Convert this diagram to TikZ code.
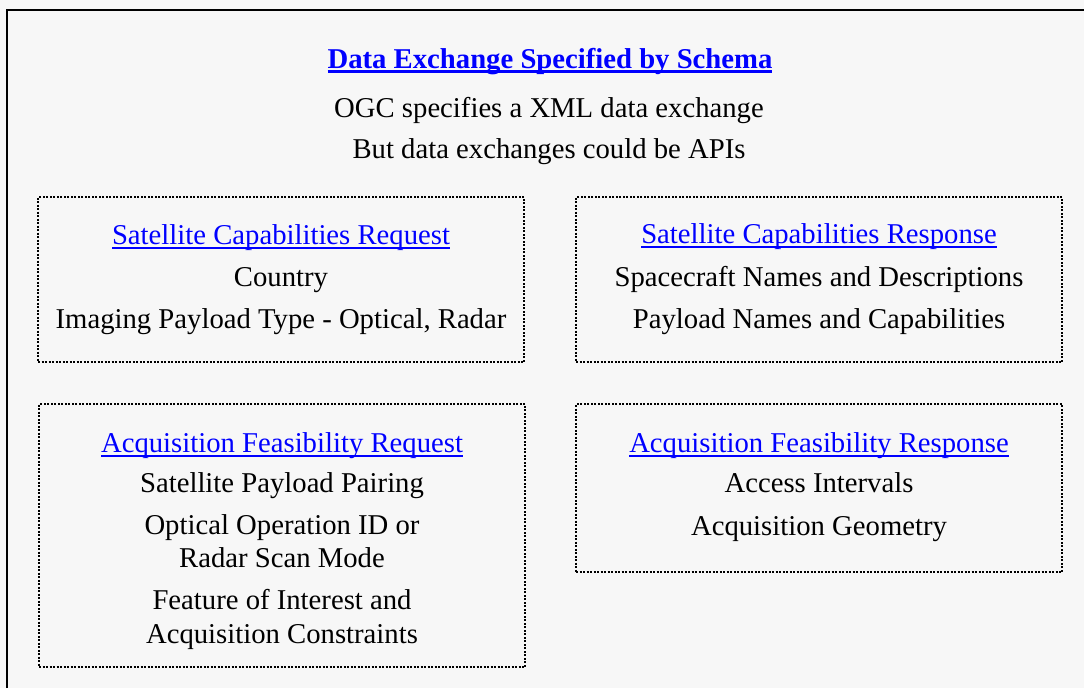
\documentclass[tikz,border=0pt]{standalone}
\usepackage{fontspec}
\setmainfont{Liberation Serif}
\definecolor{bgc}{HTML}{F7F7F7}
\definecolor{lnk}{HTML}{0000FF}
\newcommand{\ulthin}[1]{{\setbox0\hbox{#1}\rlap{\vrule height -3pt depth 5pt width \wd0}\box0}}
\newcommand{\ulthick}[1]{{\setbox0\hbox{#1}\rlap{\vrule height -2pt depth 5pt width \wd0}\box0}}
\tikzset{
  txt/.style={anchor=base, inner sep=0pt, font=\fontsize{28.7}{33}\selectfont, text=black},
  lnktxt/.style={txt, text=lnk},
  dotbox/.style={draw=black, line width=2pt, dash pattern=on 2pt off 1.5pt, rectangle, inner sep=0pt},
}
\begin{document}
\begin{tikzpicture}[x=1pt,y=-1pt]
\fill[bgc] (0,0) rectangle (1084,688);
\useasboundingbox (0,0) rectangle (1084,688);
\coordinate (bl) at (7,688);
\coordinate (tl) at (7,10);
\coordinate (tr) at (1084,10);
\draw[line width=2pt] (bl) -- (tl) -- (tr);

% header
\node[lnktxt, font=\fontsize{28.7}{33}\selectfont\bfseries] (title) at (550,68) {\ulthick{Data Exchange Specified by Schema}};
\node[txt] (h1) at (549,117) {OGC specifies a XML data exchange};
\node[txt] (h2) at (549,158) {But data exchanges could be APIs};

% boxes
\node[dotbox, minimum width=486pt, minimum height=165pt] (b1) at (281,279.5) {};
\node[dotbox, minimum width=486pt, minimum height=165pt] (b2) at (819,279.5) {};
\node[dotbox, minimum width=486pt, minimum height=263pt] (b3) at (282,535.5) {};
\node[dotbox, minimum width=486pt, minimum height=168pt] (b4) at (819,488) {};

% box 1
\node[lnktxt] (b1t) at (281,244) {\ulthin{Satellite Capabilities Request}};
\node[txt] (b1a) at (281,286) {Country};
\node[txt] (b1b) at (281,328) {Imaging Payload Type - Optical, Radar};

% box 2
\node[lnktxt] (b2t) at (819,243) {\ulthin{Satellite Capabilities Response}};
\node[txt] (b2a) at (819,286) {Spacecraft Names and Descriptions};
\node[txt] (b2b) at (819,328) {Payload Names and Capabilities};

% box 3
\node[lnktxt] (b3t) at (282,452) {\ulthin{Acquisition Feasibility Request}};
\node[txt] (b3a) at (282,492) {Satellite Payload Pairing};
\node[txt] (b3b) at (282,534) {Optical Operation ID or};
\node[txt] (b3c) at (282,567) {Radar Scan Mode};
\node[txt] (b3d) at (282,609) {Feature of Interest and};
\node[txt] (b3e) at (282,643) {Acquisition Constraints};

% box 4
\node[lnktxt] (b4t) at (819,452) {\ulthin{Acquisition Feasibility Response}};
\node[txt] (b4a) at (819,492) {Access Intervals};
\node[txt] (b4b) at (819,535) {Acquisition Geometry};
\end{tikzpicture}
\end{document}
